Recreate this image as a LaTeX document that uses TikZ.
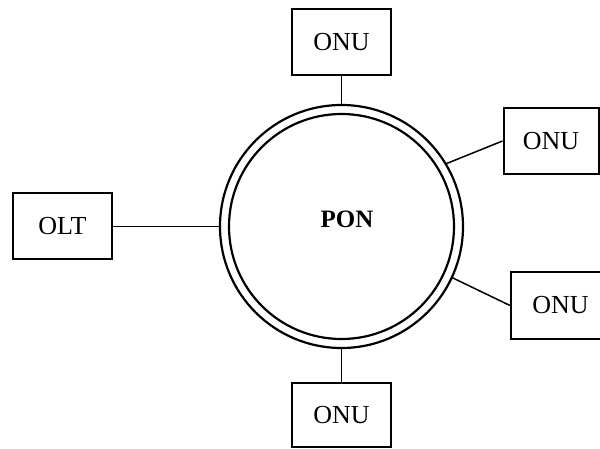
\documentclass[tikz,border=0pt]{standalone}
\usepackage{fontspec}
\setmainfont{Liberation Serif}
\begin{document}
\begin{tikzpicture}[x=1pt,y=-1pt,
  unitbox/.style={draw, line width=2pt, minimum width=99pt, minimum height=66pt, inner sep=0pt, font=\fontsize{26}{30}\selectfont},
  link/.style={line width=1.5pt}]
\useasboundingbox (0,0) rectangle (600,449);
\clip (0,0) rectangle (600,449);
\coordinate (c) at (341.5,226.5);
\draw[line width=2.2pt] (c) circle[radius=121.5];
\draw[line width=2.2pt] (c) circle[radius=112.5];
\node[font=\fontsize{25}{30}\selectfont\bfseries] (pon) at (347,219) {PON};
\node[unitbox] (top) at (341.5,42.5) {ONU};
\node[unitbox, minimum width=95pt] (ur) at (551,141) {ONU};
\node[unitbox] (olt) at (62.5,226.5) {OLT};
\node[unitbox] (lr) at (560.5,305.5) {ONU};
\node[unitbox, minimum height=64pt] (bot) at (341.5,415) {ONU};
\draw[link] (top.south) -- ([yshift=121.5pt]c);
\draw[link] (olt.east) -- ([xshift=-121.5pt]c);
\draw[link] (bot.north) -- ([yshift=-121.5pt]c);
\draw[link] (ur.west) -- ([shift={(-31:121.5)}]c);
\draw[link] (lr.west) -- ([shift={(24.8:121.5)}]c);
\end{tikzpicture}
\end{document}
